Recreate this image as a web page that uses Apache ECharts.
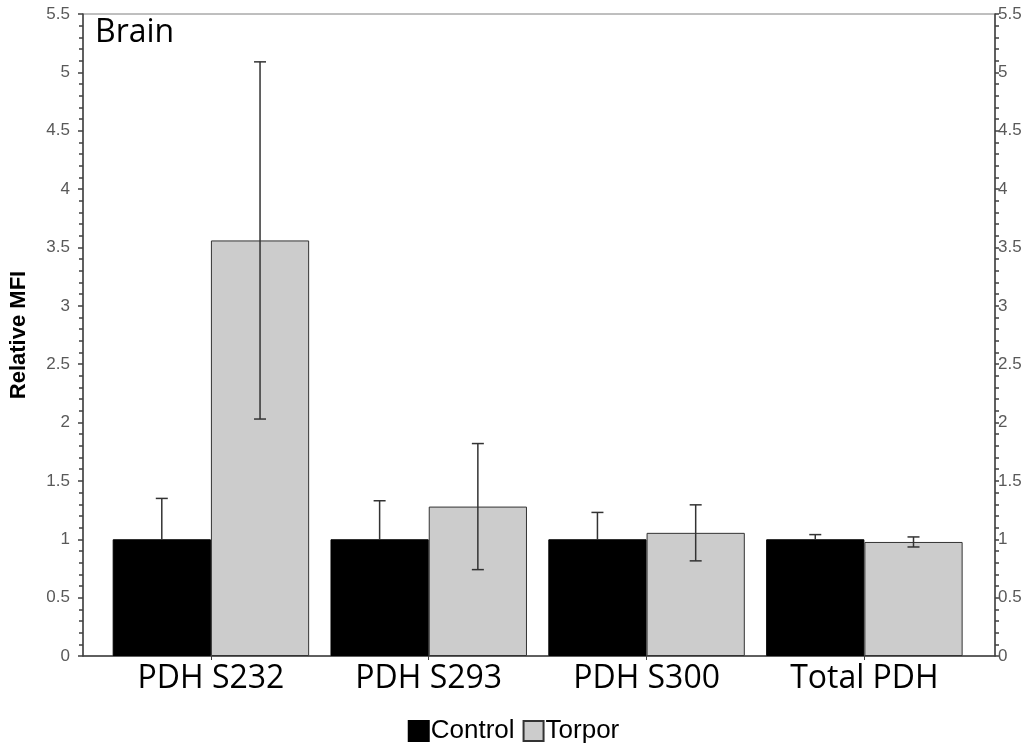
<!DOCTYPE html>
<html>
<head>
<meta charset="utf-8">
<script src="https://cdn.jsdelivr.net/npm/echarts@6/dist/echarts.min.js"></script>
<style>html,body{margin:0;padding:0;background:#fff}#c{width:1027px;height:744px}</style>
</head>
<body>
<div id="c"></div>
<script>
const categories = ['PDH S232', 'PDH S293', 'PDH S300', 'Total PDH'];
const controlValues = [1, 1, 1, 1];
const controlErrors = [0.35, 0.33, 0.23, 0.04];
const torporValues = [3.56, 1.28, 1.055, 0.977];
const torporErrors = [1.53, 0.54, 0.24, 0.043];
const yTicks = { min: 0, max: 5.5, interval: 0.5 };

const GAP = 0.098;
function errorRenderer(sign, showLower) {
  return function (params, api) {
    const i = api.value(0), v = api.value(1), e = api.value(2);
    const catW = api.size([1, 0])[0];
    const bw = catW * (1 - GAP) / 2;
    const c = api.coord([i, v]);
    const x = c[0] + sign * bw / 2;
    const yTop = api.coord([i, v + e])[1];
    const yBot = api.coord([i, v - e])[1];
    const cap = 6;
    const style = { stroke: '#333', lineWidth: 1.5 };
    const children = [
      { type: 'line', shape: { x1: x, y1: yTop, x2: x, y2: showLower ? yBot : c[1] }, style },
      { type: 'line', shape: { x1: x - cap, y1: yTop, x2: x + cap, y2: yTop }, style }
    ];
    if (showLower) children.push({ type: 'line', shape: { x1: x - cap, y1: yBot, x2: x + cap, y2: yBot }, style });
    return { type: 'group', children };
  };
}

const chart = echarts.init(document.getElementById('c'), null, { renderer: 'canvas' });
const axisLabelStyle = { color: '#595959', fontFamily: 'Liberation Sans', fontSize: 17 };
chart.setOption({
  animation: false,
  backgroundColor: '#fff',
  title: {
    text: 'Brain', left: 90, top: 12,
    textStyle: { fontFamily: 'Open Sans', fontSize: 32, fontWeight: 'normal', color: '#000' }
  },
  legend: {
    data: ['Control', 'Torpor'],
    left: 'center', top: 713,
    itemWidth: 20, itemHeight: 20, itemGap: 8,
    icon: 'rect',
    textStyle: { fontFamily: 'Liberation Sans', fontSize: 26, color: '#000', padding: [0, 0, 0, -3] }
  },
  grid: [
    { left: 81, right: 32, top: 14, bottom: 88, show: true, borderColor: '#7f7f7f', borderWidth: 1, backgroundColor: 'transparent' },
    { left: 102, right: 53.7, top: 14, bottom: 88 }
  ],
  xAxis: [
    { type: 'value', gridIndex: 0, min: 0, max: 1, axisLine: { show: true, lineStyle: { color: '#404040', width: 1.5 } },
      axisTick: { show: false }, axisLabel: { show: false }, splitLine: { show: false } },
    { type: 'category', gridIndex: 1, data: categories,
      axisLine: { show: false }, axisTick: { show: true, alignWithLabel: true, length: 4, lineStyle: { color: '#404040' } },
      axisLabel: { fontFamily: 'Open Sans', fontSize: 32, color: '#000', margin: 7 } }
  ],
  yAxis: [
    { type: 'value', gridIndex: 0, position: 'left', min: yTicks.min, max: yTicks.max, interval: yTicks.interval,
      name: 'Relative MFI', nameLocation: 'middle', nameGap: 53,
      nameTextStyle: { fontFamily: 'Liberation Sans', fontSize: 22, fontWeight: 'bold', color: '#000' },
      axisLine: { show: true, lineStyle: { color: '#404040', width: 1.5 } },
      axisTick: { show: true, length: 5, lineStyle: { color: '#404040', width: 1.5 } },
      minorTick: { show: true, splitNumber: 5, length: 4, lineStyle: { color: '#404040', width: 1.5 } },
      axisLabel: Object.assign({ margin: 13 }, axisLabelStyle),
      splitLine: { show: false } },
    { type: 'value', gridIndex: 0, position: 'right', min: yTicks.min, max: yTicks.max, interval: yTicks.interval,
      axisLine: { show: true, lineStyle: { color: '#404040', width: 1.5 } },
      axisTick: { show: true, length: 4, lineStyle: { color: '#404040', width: 1.5 } },
      minorTick: { show: true, splitNumber: 5, length: 4, lineStyle: { color: '#404040', width: 1.5 } },
      axisLabel: Object.assign({ margin: 3 }, axisLabelStyle),
      splitLine: { show: false } },
    { type: 'value', gridIndex: 1, min: yTicks.min, max: yTicks.max, show: false }
  ],
  series: [
    { name: 'Control', type: 'bar', xAxisIndex: 1, yAxisIndex: 2, data: controlValues,
      barGap: '0%', barCategoryGap: (GAP * 100) + '%',
      itemStyle: { color: '#000', borderColor: '#000', borderWidth: 1 } },
    { name: 'Torpor', type: 'bar', xAxisIndex: 1, yAxisIndex: 2, data: torporValues,
      barGap: '0%', barCategoryGap: (GAP * 100) + '%',
      itemStyle: { color: '#cccccc', borderColor: '#333', borderWidth: 1 } },
    { type: 'custom', xAxisIndex: 1, yAxisIndex: 2, z: 10, silent: true,
      renderItem: errorRenderer(-1, false),
      data: categories.map((c, i) => [i, controlValues[i], controlErrors[i]]) },
    { type: 'custom', xAxisIndex: 1, yAxisIndex: 2, z: 10, silent: true,
      renderItem: errorRenderer(1, true),
      data: categories.map((c, i) => [i, torporValues[i], torporErrors[i]]) }
  ]
});
</script>
</body>
</html>
